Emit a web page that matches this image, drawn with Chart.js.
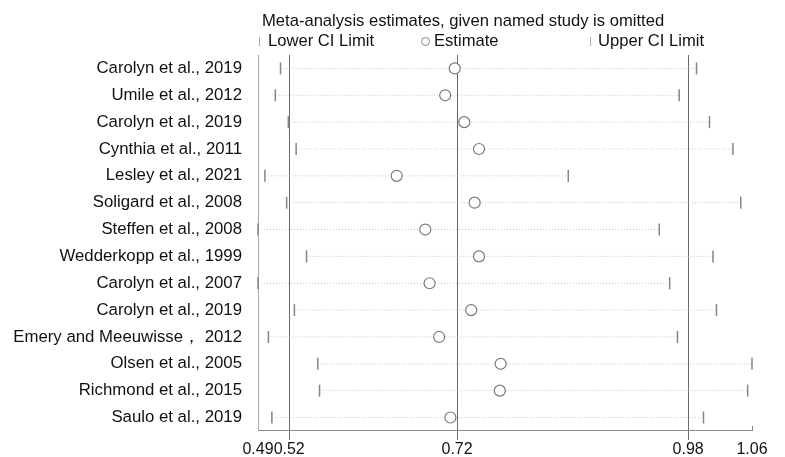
<!DOCTYPE html>
<html>
<head>
<script src="https://cdn.jsdelivr.net/npm/chart.js"></script>
<style>
  body { margin: 0; background: #fff; }
</style>
</head>

<body>
<div style="width:785px;height:457px">
  <canvas id="myChart" width="785" height="457"></canvas>
</div>

<script>
  // study omitted in each row, top to bottom
  const studies = [
    'Carolyn et al., 2019', 'Umile et al., 2012', 'Carolyn et al., 2019',
    'Cynthia et al., 2011', 'Lesley et al., 2021', 'Soligard et al., 2008',
    'Steffen et al., 2008', 'Wedderkopp et al., 1999', 'Carolyn et al., 2007',
    'Carolyn et al., 2019', 'Emery and Meeuwisse\uff0c 2012', 'Olsen et al., 2005',
    'Richmond et al., 2015', 'Saulo et al., 2019'
  ];
  const lowerCI  = [0.514, 0.508, 0.523, 0.532, 0.496, 0.521, 0.488, 0.544, 0.488, 0.530, 0.500, 0.557, 0.559, 0.504];
  const estimate = [0.715, 0.704, 0.726, 0.743, 0.648, 0.738, 0.681, 0.743, 0.686, 0.734, 0.697, 0.768, 0.767, 0.710];
  const upperCI  = [0.994, 0.974, 1.009, 1.036, 0.846, 1.045, 0.951, 1.013, 0.963, 1.017, 0.972, 1.058, 1.053, 1.002];
  // axis: min, overall lower, overall estimate, overall upper, max
  const axisTicks = [0.488, 0.524, 0.7177, 0.9843, 1.058];

  const titleText = 'Meta-analysis estimates, given named study is omitted';
  const FONT = '"Liberation Sans", Arial, sans-serif';

  const datasets = [];
  for (let i = 0; i < studies.length; i++) {
    datasets.push({
      type: 'line',
      data: [{x: lowerCI[i], y: i}, {x: upperCI[i], y: i}],
      borderColor: '#c4c4c4',
      borderWidth: 1,
      borderDash: [1, 2],
      pointRadius: 0,
      order: 3
    });
  }
  datasets.push({
    label: 'Lower CI Limit',
    data: lowerCI.map((v, i) => ({x: v, y: i})),
    pointStyle: 'line', rotation: 90, radius: 6,
    borderColor: '#858585', borderWidth: 1.5, order: 2
  });
  datasets.push({
    label: 'Upper CI Limit',
    data: upperCI.map((v, i) => ({x: v, y: i})),
    pointStyle: 'line', rotation: 90, radius: 6,
    borderColor: '#858585', borderWidth: 1.5, order: 2
  });
  datasets.push({
    label: 'Estimate',
    data: estimate.map((v, i) => ({x: v, y: i})),
    pointStyle: 'circle', radius: 5.5,
    borderColor: '#7a7a7a', backgroundColor: '#fff', borderWidth: 1.2, order: 1
  });
  datasets.forEach(d => { d.clip = false; });

  // title + legend drawn in stata-like columns, plus the short end tick at max
  const headerPlugin = {
    id: 'header',
    afterDraw(chart) {
      const c = chart.ctx;
      const xs = chart.scales.x;
      c.save();
      c.font = '16.6px ' + FONT;
      c.fillStyle = '#111';
      c.textBaseline = 'middle';
      c.fillText(titleText, 262, 21);
      c.fillText('Lower CI Limit', 268, 41);
      c.fillText('Estimate', 434, 41);
      c.fillText('Upper CI Limit', 598, 41);
      c.strokeStyle = '#aaa';
      c.lineWidth = 1;
      c.beginPath();
      c.moveTo(259.5, 37); c.lineTo(259.5, 46);
      c.moveTo(590.5, 37); c.lineTo(590.5, 46);
      c.stroke();
      c.strokeStyle = '#888';
      c.beginPath();
      c.arc(425.5, 41.5, 4, 0, Math.PI * 2);
      c.stroke();
      const xe = Math.round(xs.getPixelForValue(axisTicks[4])) + 0.5;
      c.strokeStyle = '#8a8a8a';
      c.beginPath();
      c.moveTo(xe, xs.top); c.lineTo(xe, xs.top - 5);
      c.stroke();
      c.restore();
    }
  };

  const ctx = document.getElementById('myChart');
  new Chart(ctx, {
    type: 'scatter',
    data: { datasets: datasets },
    plugins: [headerPlugin],
    options: {
      responsive: false,
      animation: false,
      layout: { padding: { top: 55, right: 33, bottom: 0, left: 0 } },
      plugins: {
        legend: { display: false },
        tooltip: { enabled: false }
      },
      scales: {
        x: {
          type: 'linear',
          min: axisTicks[0],
          max: axisTicks[axisTicks.length - 1],
          afterBuildTicks: (scale) => { scale.ticks = axisTicks.map(v => ({value: v})); },
          afterFit: (scale) => { scale.height = 24; },
          ticks: {
            autoSkip: false,
            maxRotation: 0,
            padding: 0,
            color: '#111',
            font: { size: 16, family: FONT },
            callback: (v) => Number(v).toFixed(2)
          },
          grid: {
            color: (c) => (c.index === 0 || c.index === 4) ? 'rgba(0,0,0,0)' : '#6a6a6a',
            tickColor: (c) => (c.index === 0 || c.index === 4) ? 'rgba(0,0,0,0)' : '#6a6a6a',
            tickLength: 9,
            lineWidth: 1
          },
          border: { color: '#8a8a8a', width: 1 }
        },
        y: {
          type: 'linear',
          reverse: true,
          min: -0.5,
          max: studies.length - 0.5,
          afterBuildTicks: (scale) => { scale.ticks = studies.map((s, i) => ({value: i})); },
          afterFit: (scale) => { scale.width = 258; },
          ticks: {
            autoSkip: false,
            padding: 16,
            color: '#111',
            font: { size: 16.8, family: FONT },
            callback: (v) => studies[v]
          },
          grid: { display: false, drawTicks: false },
          border: { display: true, color: '#a8a8a8', width: 1 }
        }
      }
    }
  });
</script>
</body>
</html>
